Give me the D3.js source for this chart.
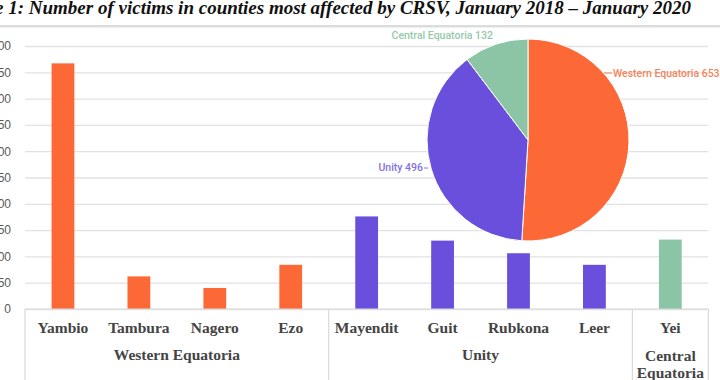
<!DOCTYPE html>
<html><head><meta charset="utf-8">
<script src="https://cdn.jsdelivr.net/npm/d3@7"></script>
<style>body{margin:0;background:#fff}svg{display:block}</style>
</head><body>
<svg id="c" width="720" height="380"></svg>
<script>
const counties = ["Yambio","Tambura","Nagero","Ezo","Mayendit","Guit","Rubkona","Leer","Yei"];
const countyValues = [467,62,40,84,176,130,106,84,132];
const countyGroup = ["Western Equatoria","Western Equatoria","Western Equatoria","Western Equatoria","Unity","Unity","Unity","Unity","Central Equatoria"];
const provinces = ["Western Equatoria","Unity","Central Equatoria"];
const provinceTotals = [653,496,132];
const provinceLabelLines = [["Western Equatoria"],["Unity"],["Central","Equatoria"]];
const yTicks = [0,50,100,150,200,250,300,350,400,450,500];
const titleText = "Figure 1: Number of victims in counties most affected by CRSV, January 2018 \u2013 January 2020";

const barColors = {"Western Equatoria":"#fd6936","Unity":"#6a4fdc","Central Equatoria":"#8cc5a5"};
const labelColors = {"Western Equatoria":"#f3845c","Unity":"#8472e2","Central Equatoria":"#95caa9"};

const svg = d3.select("#c");
const L = 25, R = 708.3, B = 309, T = 46;

// title
svg.append("text").attr("x",691).attr("y",14).attr("text-anchor","end")
  .attr("font-family","'Liberation Serif', serif").attr("font-weight","bold").attr("font-style","italic")
  .attr("font-size",19).attr("fill","#111").text(titleText);
svg.append("rect").attr("x",0).attr("y",25).attr("width",720).attr("height",2).attr("fill","#dcdcdc");
svg.append("rect").attr("x",0).attr("y",27).attr("width",720).attr("height",1).attr("fill","#efefef");

const x = d3.scaleBand().domain(counties).range([L,R]).paddingInner(0.7).paddingOuter(0.35);
const y = d3.scaleLinear().domain([0,500]).range([B,T]);

// grid + y axis
const ya = svg.append("g").attr("transform",`translate(${L},0)`)
  .call(d3.axisLeft(y).tickValues(yTicks).tickSize(-(R-L)).tickPadding(14));
ya.select(".domain").remove();
ya.selectAll(".tick line").attr("stroke","#e2e2e2").attr("stroke-width",1.3);
ya.selectAll(".tick text").attr("font-family","'Liberation Sans', Arial, sans-serif").attr("font-size",12).attr("fill","#595959");

// bars
svg.append("g").selectAll("rect").data(counties).join("rect")
  .attr("x",d=>x(d)).attr("width",x.bandwidth())
  .attr("y",(d,i)=>y(countyValues[i])).attr("height",(d,i)=>B-y(countyValues[i]))
  .attr("fill",(d,i)=>barColors[countyGroup[i]]);

// category axis
const xa = svg.append("g").attr("transform",`translate(0,${B})`)
  .call(d3.axisBottom(x).tickSize(0).tickPadding(0));
xa.select(".domain").remove();
xa.selectAll(".tick text").attr("y",24).attr("dy",null)
  .attr("font-family","'Liberation Serif', serif").attr("font-weight","bold").attr("font-size",15.5).attr("fill","#444");

// group boxes
const step = x.step(), half = step*x.paddingInner()/2;
const bounds = [L];
provinces.forEach(p=>{
  const idx = countyGroup.map((g,i)=>g===p?i:-1).filter(i=>i>=0);
  const last = counties[idx[idx.length-1]];
  bounds.push(Math.min(R, x(last)+x.bandwidth()+half));
});
svg.append("line").attr("x1",L).attr("x2",R).attr("y1",B).attr("y2",B).attr("stroke","#d9d9d9").attr("stroke-width",1.2);
svg.append("g").selectAll("line").data(bounds).join("line")
  .attr("x1",d=>d).attr("x2",d=>d).attr("y1",B).attr("y2",380).attr("stroke","#d9d9d9").attr("stroke-width",1.2);
provinces.forEach((p,i)=>{
  const cx = (bounds[i]+bounds[i+1])/2;
  const lines = provinceLabelLines[i];
  lines.forEach((ln,j)=>{
    svg.append("text").attr("x",cx).attr("y",lines.length>1?361+j*16.5:360).attr("text-anchor","middle")
      .attr("font-family","'Liberation Serif', serif").attr("font-weight","bold").attr("font-size",15.5).attr("fill","#444").text(ln);
  });
});

// pie
const pcx = 528, pcy = 140, pr = 101;
const pie = d3.pie().sort(null)(provinceTotals);
const arc = d3.arc().innerRadius(0).outerRadius(pr);
const pg = svg.append("g").attr("transform",`translate(${pcx},${pcy})`);
pg.selectAll("path").data(pie).join("path").attr("d",arc)
  .attr("fill",(d,i)=>barColors[provinces[i]]).attr("stroke","#fff").attr("stroke-width",1);

// pie labels (offsets relative to pie centre)
const pl = [
  {dx:85, dy:-63, anchor:"start", lx1:76, lx2:84, ly:-67},
  {dx:-105, dy:31, anchor:"end", lx1:-104, lx2:-100, ly:28},
  {dx:-35, dy:-101, anchor:"end", lx1:null}
];
pie.forEach((d,i)=>{
  const o = pl[i], col = labelColors[provinces[i]];
  if(o.lx1!==null) pg.append("line").attr("x1",o.lx1).attr("x2",o.lx2).attr("y1",o.ly).attr("y2",o.ly).attr("stroke",col).attr("stroke-width",1);
  pg.append("text").attr("x",o.dx).attr("y",o.dy).attr("text-anchor",o.anchor)
    .attr("font-family","Roboto, sans-serif").attr("font-weight",500).attr("font-size",10.5).attr("fill",col)
    .text(provinces[i]+" "+d.data);
});
</script>
</body></html>
